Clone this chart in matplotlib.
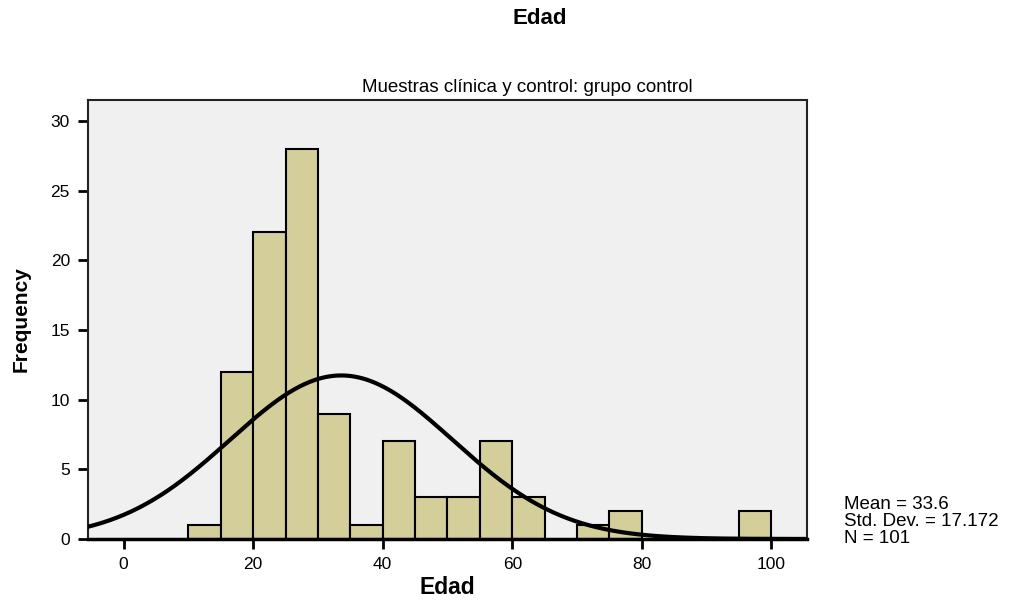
import numpy as np
import matplotlib.pyplot as plt

plt.rcParams['font.family'] = ['Liberation Sans', 'DejaVu Sans']

# datos del histograma (Edad, grupo control)
bin_edges = [10, 15, 20, 25, 30, 35, 40, 45, 50, 55, 60, 65, 70, 75, 80, 85, 90, 95, 100]
counts = [1, 12, 22, 28, 9, 1, 7, 3, 3, 7, 3, 0, 1, 2, 0, 0, 0, 2]
mean = 33.6
std = 17.172
n = 101
bin_width = 5

x_ticks = [0, 20, 40, 60, 80, 100]
y_ticks = [0, 5, 10, 15, 20, 25, 30]

fig = plt.figure(figsize=(10.09, 6.02), dpi=100)
ax = fig.add_axes([0.0872, 0.1047, 0.7126, 0.7293])
ax.set_facecolor('#f0f0f0')

for left, c in zip(bin_edges[:-1], counts):
    if c > 0:
        ax.bar(left, c, width=bin_width, align='edge', color='#d3ce9a',
               edgecolor='black', linewidth=1.5, zorder=2)

# curva normal
xs = np.linspace(-5.5, 105.5, 400)
ys = n * bin_width / (std * np.sqrt(2 * np.pi)) * np.exp(-0.5 * ((xs - mean) / std) ** 2)
ax.plot(xs, ys, color='black', linewidth=3, zorder=3)

ax.set_xlim(-5.5, 105.5)
ax.set_ylim(0, 31.5)
ax.set_xticks(x_ticks)
ax.set_yticks(y_ticks)
ax.tick_params(direction='out', length=7, width=2, labelsize=12.5, pad=6)
for sp in ax.spines.values():
    sp.set_linewidth(1.5)
    sp.set_color('#222222')
ax.spines['bottom'].set_linewidth(2.5)
ax.spines['bottom'].set_color('black')

ax.set_xlabel('Edad', fontsize=16.5, fontweight='bold', labelpad=3)
ax.set_ylabel('Frequency', fontsize=15, fontweight='bold', labelpad=14)

fig.text(0.535, 0.97, 'Edad', ha='center', va='center', fontsize=16, fontweight='bold')
fig.text(0.523, 0.855, 'Muestras clínica y control: grupo control', ha='center',
         va='center', fontsize=13.5)
fig.text(0.836, 0.133, 'Mean = 33.6\nStd. Dev. = 17.172\nN = 101', ha='left',
         va='center', fontsize=13.5, linespacing=1.0)

fig.savefig('out.png', dpi=100)
